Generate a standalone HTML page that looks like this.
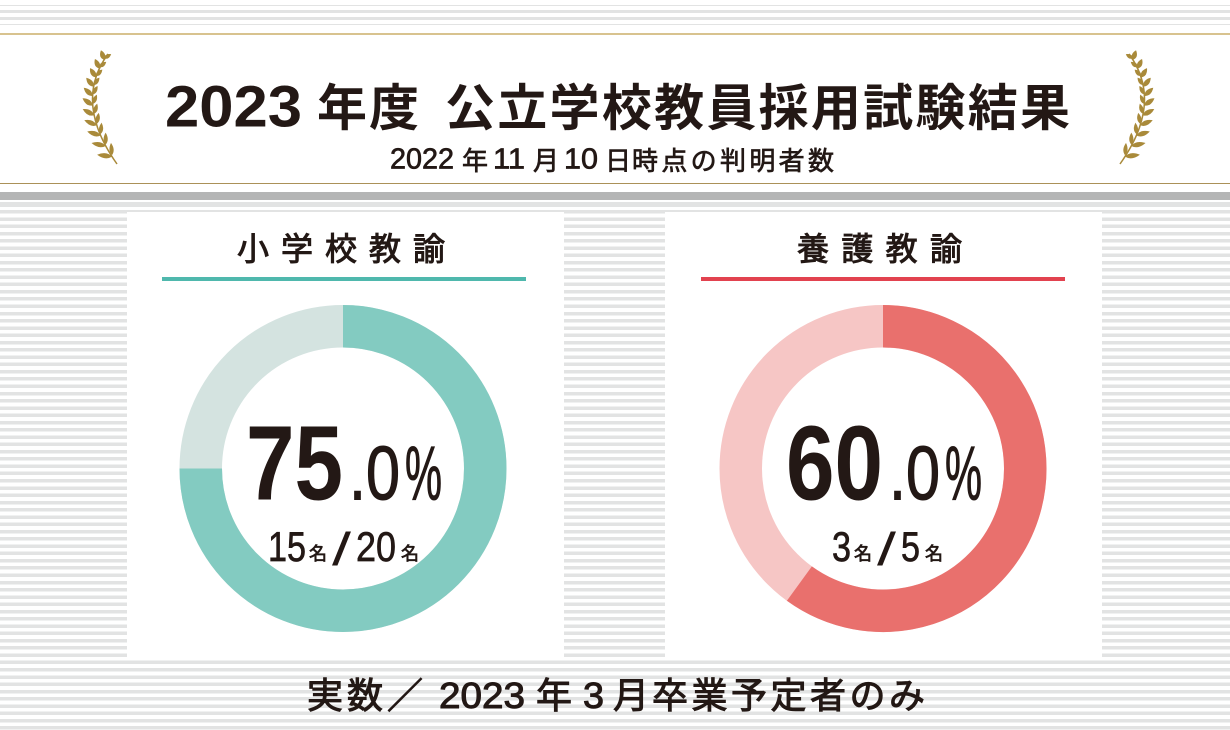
<!DOCTYPE html>
<html lang="ja">
<head>
<meta charset="utf-8">
<title>2023年度 公立学校教員採用試験結果</title>
<style>
html,body{margin:0;padding:0;background:#fff;}
#stage{position:relative;width:1230px;height:730px;overflow:hidden;background:#fff;}
#stage div{position:absolute;}
.stripes{background:repeating-linear-gradient(to bottom,#e2e3e3 0,#e2e3e3 3.5px,#fff 3.5px,#fff 7.27px);}
svg{position:absolute;left:0;top:0;}
text{font-family:"Liberation Sans","Noto Sans CJK JP",sans-serif;fill:#231815;}
.med{stroke:#231815;stroke-width:.7px;}
.heavy{stroke:#231815;stroke-width:1px;}
.med2{stroke:#231815;stroke-width:1.1px;}
</style>
</head>
<body>
<div id="stage">
  <div style="left:0;top:5px;width:1230px;height:1px;background:#e2e3e3"></div>
  <div style="left:0;top:10px;width:1230px;height:3px;background:#e2e3e3"></div>
  <div style="left:0;top:17px;width:1230px;height:3px;background:#e2e3e3"></div>
  <div style="left:0;top:24px;width:1230px;height:1px;background:#e2e3e3"></div>
  <div style="left:0;top:33px;width:1230px;height:2px;background:#d8c38f"></div>
  <div style="left:0;top:183px;width:1230px;height:1px;background:#ab9158"></div>
  <div style="left:0;top:192px;width:1230px;height:8px;background:#b4b5b5"></div>
  <div style="left:0;top:202px;width:1230px;height:5px;background:#e2e3e3"></div>
  <div class="stripes" style="left:0;top:209.6px;width:1230px;height:521px"></div>
  <div style="left:127px;top:212px;width:437px;height:445px;background:#fff"></div>
  <div style="left:665px;top:212px;width:437px;height:445px;background:#fff"></div>
  <div style="left:162px;top:277px;width:364px;height:4px;background:#4fb8ad"></div>
  <div style="left:701px;top:277px;width:364px;height:4px;background:#e2424f"></div>

  <svg id="chart" width="1230" height="730" viewBox="0 0 1230 730">
    <g id="laurels"></g>
    <g id="donuts"></g>

    <text x="165" y="126.5" font-size="58" font-weight="700" textLength="137" lengthAdjust="spacingAndGlyphs">2023</text>
    <text x="317" y="125.5" font-size="50" font-weight="700" textLength="102" lengthAdjust="spacing">年度</text>
    <text x="445" y="125.5" font-size="50" font-weight="700" textLength="625" lengthAdjust="spacing">公立学校教員採用試験結果</text>

    <g>
      <text class="med" x="390" y="168.5" font-size="29" textLength="64" lengthAdjust="spacingAndGlyphs">2022</text>
      <text class="med" x="462" y="170" font-size="26">年</text>
      <text class="med" x="493" y="168.5" font-size="29" textLength="32" lengthAdjust="spacingAndGlyphs">11</text>
      <text class="med" x="533" y="170" font-size="26">月</text>
      <text class="med" x="564" y="168.5" font-size="29" textLength="34" lengthAdjust="spacingAndGlyphs">10</text>
      <text class="med" x="605" y="170" font-size="26">日</text>
      <text class="med" x="632" y="170" font-size="26" textLength="202" lengthAdjust="spacing">時点の判明者数</text>
    </g>

    <text class="heavy" x="237" y="260" font-size="32" textLength="208" lengthAdjust="spacing">小学校教諭</text>
    <text class="heavy" x="797" y="260" font-size="32" textLength="165" lengthAdjust="spacing">養護教諭</text>

    <g id="labels"></g>

    <g>
      <text class="heavy" x="307" y="708" font-size="36" textLength="116" lengthAdjust="spacing">実数／</text>
      <text class="heavy" x="439" y="708" font-size="36" textLength="86" lengthAdjust="spacingAndGlyphs">2023</text>
      <text class="heavy" x="536" y="708" font-size="36">年</text>
      <text class="heavy" x="583" y="708" font-size="36" textLength="21" lengthAdjust="spacingAndGlyphs">3</text>
      <text class="heavy" x="613" y="708" font-size="36">月</text>
      <text class="heavy" x="652" y="708" font-size="36" textLength="273" lengthAdjust="spacing">卒業予定者のみ</text>
    </g>
  </svg>
</div>

<script>
var categories = ['elementary', 'nurse'];
var passedCounts = [15, 3];
var totalCounts = [20, 5];
var countUnit = '名';

var NS = 'http://www.w3.org/2000/svg';
var donutColors = [['#83cbc1', '#d4e3e0'], ['#e9706d', '#f6c6c5']];
var centerX = [343, 883];
var centerY = 468.5;
var ringRadius = 142.25;
var ringWidth = 42.5;

function svgEl(tag, attrs) {
  var el = document.createElementNS(NS, tag);
  for (var k in attrs) el.setAttribute(k, attrs[k]);
  return el;
}
function angleFor(share) { return share * 2 * Math.PI - Math.PI / 2; }
function arcPath(cx, cy, r, share) {
  var a = angleFor(share);
  var large = share > 0.5 ? 1 : 0;
  return 'M' + cx + ' ' + (cy - r) + ' A' + r + ' ' + r + ' 0 ' + large + ' 1 ' +
    (cx + r * Math.cos(a)) + ' ' + (cy + r * Math.sin(a));
}
function addText(parent, name, x, y, size, weight, width, str, cls) {
  var t = svgEl('text', {x: x, y: y, 'font-size': size, 'font-weight': weight,
    textLength: width, lengthAdjust: 'spacingAndGlyphs'});
  if (cls) t.setAttribute('class', cls);
  
  
  t.textContent = str;
  parent.appendChild(t);
}

var donutLayer = document.getElementById('donuts');
var labelLayer = document.getElementById('labels');

categories.forEach(function (cat, i) {
  var share = passedCounts[i] / totalCounts[i];
  var cx = centerX[i];

  var track = svgEl('circle', {cx: cx, cy: centerY, r: ringRadius, fill: 'none',
    stroke: donutColors[i][1], 'stroke-width': ringWidth});
  
  
  donutLayer.appendChild(track);

  var arc = svgEl('path', {d: arcPath(cx, centerY, ringRadius, share), fill: 'none',
    stroke: donutColors[i][0], 'stroke-width': ringWidth});
  
  
  donutLayer.appendChild(arc);

  var pct = (share * 100).toFixed(1).split('.');
  var left = cx - 97;
  addText(labelLayer, 'percent-whole-' + cat, left, 499.5, 106, 700, 97, pct[0]);
  addText(labelLayer, 'percent-decimal-' + cat, left + 103, 499.5, 76, 400, 51, '.' + pct[1], 'med2');
  addText(labelLayer, 'percent-sign-' + cat, left + 159, 499.5, 76, 400, 37, '%', 'med2');

  var a = String(passedCounts[i]);
  var b = String(totalCounts[i]);
  var dw = 19;
  var ax = i === 0 ? cx - 75 : cx - 51;
  var aw = a.length * dw;
  addText(labelLayer, 'passed-count-' + cat, ax, 561, 42, 400, aw, a, 'med');
  addText(labelLayer, 'passed-unit-' + cat, ax + aw + 3, 560, 18, 400, 18, countUnit, 'med');
  addText(labelLayer, 'count-slash-' + cat, ax + aw + 26, 565, 46, 400, 19, '/');
  var bx = ax + aw + 50;
  var bw = b.length * dw + (b.length > 1 ? 2 : 0);
  addText(labelLayer, 'total-count-' + cat, bx, 561, 42, 400, bw, b, 'med');
  addText(labelLayer, 'total-unit-' + cat, bx + bw + 5, 560, 18, 400, 18, countUnit, 'med');
});

var laurelLayer = document.getElementById('laurels');
function bez(t) {
  var u = 1 - t;
  return {
    x: u * u * 117 + 2 * u * t * 73 + t * t * 108,
    y: u * u * 164 + 2 * u * t * 102 + t * t * 54,
    dx: 2 * u * (73 - 117) + 2 * t * (108 - 73),
    dy: 2 * u * (102 - 164) + 2 * t * (54 - 102)
  };
}
function leaf(L, W) {
  return 'M0 0 Q' + (L * 0.4) + ' ' + (-W) + ' ' + L + ' 0 Q' + (L * 0.4) + ' ' + W + ' 0 0Z';
}
function drawLaurel(name, wrapTransform) {
  var g = svgEl('g', {transform: wrapTransform, fill: '#a98a3a'});
  
  
  g.appendChild(svgEl('path', {d: 'M117 164 Q73 102 108 54', fill: 'none', stroke: '#a98a3a', 'stroke-width': 1.5}));
  for (var n = 0; n < 11; n++) {
    var t = 0.06 + n * 0.088;
    var p = bez(t);
    var ang = Math.atan2(p.dy, p.dx) * 180 / Math.PI;
    var L = 15 - n * 0.5;
    g.appendChild(svgEl('path', {d: leaf(L, 5), transform: 'translate(' + p.x + ' ' + p.y + ') rotate(' + (ang - 50) + ')'}));
    g.appendChild(svgEl('path', {d: leaf(L * 0.82, 4.2), transform: 'translate(' + p.x + ' ' + (p.y - 1.5) + ') rotate(' + (ang + 28) + ')'}));
  }
  laurelLayer.appendChild(g);
}
drawLaurel('laurel-left', '');
drawLaurel('laurel-right', 'translate(1237 0) scale(-1 1)');
</script>
</body>
</html>
